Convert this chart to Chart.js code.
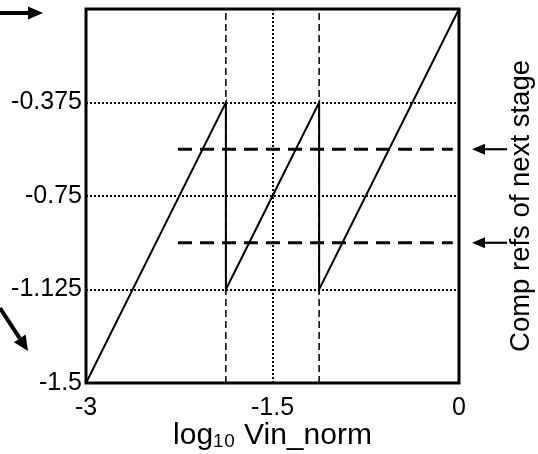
<!DOCTYPE html>
<html>
<head>
<meta charset="utf-8">
<script src="https://cdn.jsdelivr.net/npm/chart.js@4/dist/chart.umd.min.js"></script>
<style>
  html, body { margin: 0; padding: 0; background: #fff; }
  #wrap { width: 538px; height: 454px; position: relative; }
</style>
</head>
<body>
<div id="wrap"><canvas id="adcChart"></canvas></div>
<script>
// axes
const xTicks = [-3, -1.5, 0];
const yTicks = [-0.375, -0.75, -1.125, -1.5];

// transfer curve (sawtooth)
const sawX = [-3, -1.875, -1.875, -1.125, -1.125, 0];
const sawY = [-1.5, -0.375, -1.125, -0.375, -1.125, 0];

// comparator refs of next stage (thick dashed)
const refLevels = [-0.5625, -0.9375];
const refSpan = [-2.26, -0.05];

// dashed vertical markers
const markX = [-1.875, -1.125];

const FONT = "'Liberation Sans', Arial, sans-serif";

function seg(x0, y0, x1, y1) {
    return [{ x: x0, y: y0 }, { x: x1, y: y1 }];
}

const datasets = [];
datasets.push({
    data: sawX.map((x, i) => ({ x: x, y: sawY[i] })),
    borderColor: '#000', borderWidth: 2
});
refLevels.forEach(v => datasets.push({
    data: seg(refSpan[0], v, refSpan[1], v),
    borderColor: '#000', borderWidth: 3, borderDash: [14, 8]
}));
markX.forEach(v => datasets.push({
    data: seg(v, -1.5, v, 0),
    borderColor: '#000', borderWidth: 1.5, borderDash: [7, 4]
}));
datasets.forEach(d => { d.showLine = true; d.pointRadius = 0; d.tension = 0; });

// frame, arrows, right-hand label
function arrow(ctx, x0, y0, x1, y1, w, headLen, headW) {
    const a = Math.atan2(y1 - y0, x1 - x0);
    const bx = x1 - headLen * Math.cos(a), by = y1 - headLen * Math.sin(a);
    ctx.lineWidth = w;
    ctx.beginPath();
    ctx.moveTo(x0, y0);
    ctx.lineTo(bx, by);
    ctx.stroke();
    ctx.beginPath();
    ctx.moveTo(x1, y1);
    ctx.lineTo(bx + headW * Math.sin(a), by - headW * Math.cos(a));
    ctx.lineTo(bx - headW * Math.sin(a), by + headW * Math.cos(a));
    ctx.closePath();
    ctx.fill();
}

const extras = {
    id: 'extras',
    afterDraw(chart) {
        const ctx = chart.ctx;
        const a = chart.chartArea;
        const ys = chart.scales.y;
        ctx.save();
        ctx.strokeStyle = '#000';
        ctx.fillStyle = '#000';
        ctx.lineWidth = 3;
        ctx.strokeRect(a.left, a.top, a.right - a.left, a.bottom - a.top);

        arrow(ctx, 0, 13, 43, 13, 4, 15, 6.5);
        arrow(ctx, 0, 308, 28, 351, 4, 15, 7);
        refLevels.forEach(v => {
            const py = ys.getPixelForValue(v);
            arrow(ctx, 507, py, 472, py, 2.2, 13, 5.5);
        });

        ctx.translate(521, 206);
        ctx.rotate(-Math.PI / 2);
        ctx.font = '27.5px ' + FONT;
        ctx.textAlign = 'center';
        ctx.textBaseline = 'middle';
        ctx.fillText('Comp refs of next stage', 0, 0);
        ctx.restore();
    }
};

new Chart(document.getElementById('adcChart'), {
    type: 'scatter',
    data: { datasets: datasets },
    options: {
        responsive: true,
        maintainAspectRatio: false,
        animation: false,
        layout: { padding: { top: 9, right: 79, left: 0, bottom: 0 } },
        plugins: { legend: { display: false }, tooltip: { enabled: false } },
        scales: {
            x: {
                type: 'linear', min: -3, max: 0,
                afterBuildTicks: s => { s.ticks = xTicks.map(v => ({ value: v })); },
                afterFit: s => { s.height = 71; s.paddingLeft = 0; s.paddingRight = 0; },
                ticks: {
                    color: '#000', padding: 10, maxRotation: 0, autoSkip: false,
                    font: { family: FONT, size: 25 },
                    callback: v => String(v)
                },
                grid: {
                    drawTicks: false, lineWidth: 2,
                    color: c => (c.tick && c.tick.value === -1.5) ? '#000' : 'rgba(0,0,0,0)'
                },
                border: { display: false, dash: [2, 2] },
                title: {
                    display: true, text: 'log₁₀ Vin_norm', color: '#000',
                    font: { family: FONT, size: 30 }, padding: 0
                }
            },
            y: {
                type: 'linear', min: -1.5, max: 0,
                afterBuildTicks: s => { s.ticks = yTicks.map(v => ({ value: v })); },
                afterFit: s => { s.width = 86; s.paddingTop = 0; s.paddingBottom = 0; },
                ticks: {
                    color: '#000', padding: 4, autoSkip: false,
                    font: { family: FONT, size: 25 },
                    callback: v => String(v)
                },
                grid: {
                    drawTicks: false, lineWidth: 2,
                    color: c => (c.tick && c.tick.value !== -1.5) ? '#000' : 'rgba(0,0,0,0)'
                },
                border: { display: false, dash: [2, 2] }
            }
        }
    },
    plugins: [extras]
});
</script>
</body>
</html>
